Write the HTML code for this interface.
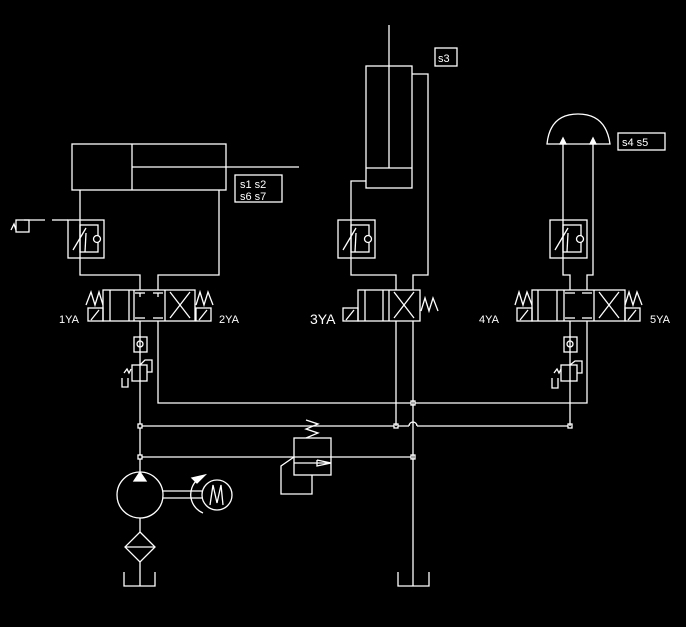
<!DOCTYPE html><html><head><style>body{margin:0;background:#000}svg{display:block}text{font-family:"Liberation Sans",sans-serif;fill:#fff}</style></head><body>
<svg width="686" height="627" viewBox="0 0 686 627" stroke="#fff" stroke-width="1.3" fill="none">
<rect x="72" y="144" width="154" height="46"/><line x1="132" y1="144" x2="132" y2="190"/><line x1="132" y1="167" x2="299" y2="167"/>
<rect x="235" y="175" width="47" height="27"/>
<text x="240" y="188" font-size="11" stroke="none">s1 s2</text><text x="240" y="200" font-size="11" stroke="none">s6 s7</text>
<polyline points="80,190 80,275 140,275 140,290"/><polyline points="219,190 219,275 158,275 158,290"/>
<rect x="68" y="220" width="36" height="38"/><rect x="80" y="225" width="18" height="27"/><circle cx="97" cy="239" r="3.5" fill="#000"/>
<line x1="73" y1="250" x2="86" y2="228"/><line x1="86" y1="233" x2="85" y2="252"/>
<line x1="52" y1="220" x2="68" y2="220"/><line x1="24" y1="220" x2="45" y2="220"/>
<rect x="16" y="220" width="13" height="12"/><polyline points="11,230 14,224 16,230"/>
<rect x="103" y="290" width="92" height="31"/><line x1="134" y1="290" x2="134" y2="321"/><line x1="165" y1="290" x2="165" y2="321"/>
<line x1="110" y1="290" x2="110" y2="321"/><line x1="129" y1="290" x2="129" y2="321"/>
<line x1="140" y1="293" x2="140" y2="297"/><line x1="135" y1="293" x2="145" y2="293"/><line x1="158" y1="293" x2="158" y2="297"/><line x1="153" y1="293" x2="163" y2="293"/>
<line x1="135" y1="318" x2="145" y2="318"/><line x1="153" y1="318" x2="163" y2="318"/>
<line x1="170" y1="292" x2="190" y2="318"/><line x1="190" y1="292" x2="170" y2="318"/>
<polyline points="86,305 91,292 95,305 99,292 103,305"/><rect x="88" y="308" width="15" height="13"/><line x1="91" y1="320" x2="99" y2="310"/>
<polyline points="196,305 200,292 204,305 208,292 213,305"/><rect x="196" y="308" width="15" height="13"/><line x1="199" y1="320" x2="207" y2="310"/>
<text x="59" y="323" font-size="11" stroke="none">1YA</text><text x="219" y="323" font-size="11" stroke="none">2YA</text>
<line x1="140" y1="321" x2="140" y2="472"/><rect x="134" y="337" width="13" height="15"/><circle cx="140" cy="344" r="3"/>
<rect x="132" y="365" width="15" height="16"/><polyline points="140,365 145,360 152,360 152,372 147,372"/>
<polyline points="124,373 127,369 129,373 131,369"/><polyline points="122,378 122,387 128,387 128,378"/>
<polyline points="158,321 158,403 587,403 587,321"/>
<line x1="140" y1="426" x2="409" y2="426"/><path d="M409 426 A4 4 0 0 1 417 426"/><line x1="417" y1="426" x2="570" y2="426"/>
<line x1="140" y1="457" x2="413" y2="457"/>
<g fill="#000"><rect x="138" y="424" width="4" height="4"/><rect x="138" y="455" width="4" height="4"/><rect x="394" y="424" width="4" height="4"/><rect x="568" y="424" width="4" height="4"/><rect x="411" y="401" width="4" height="4"/><rect x="411" y="455" width="4" height="4"/></g>
<rect x="294" y="438" width="37" height="37"/><line x1="294" y1="463" x2="331" y2="463"/><polyline points="317,460 331,463 317,466 317,460"/>
<polyline points="306,420 318,424 306,429 318,433 306,438"/>
<polyline points="294,457 281,466 281,494 312,494 312,475"/>
<circle cx="140" cy="495" r="23"/><polygon points="140,472 134,481 146,481" fill="#fff"/>
<line x1="163" y1="491" x2="203" y2="491"/><line x1="163" y1="498" x2="203" y2="498"/>
<circle cx="217" cy="495" r="15"/><polyline points="210,505 213,485 217,503 221,485 223,505"/>
<path d="M197 480 A20 20 0 0 0 203 513"/><polygon points="192,478 205,475 197,483" fill="#fff"/>
<line x1="140" y1="518" x2="140" y2="532"/><line x1="140" y1="562" x2="140" y2="586"/><polygon points="140,532 155,547 140,562 125,547"/><line x1="125" y1="547" x2="155" y2="547"/>
<polyline points="124,572 124,586 155,586 155,572"/>
<rect x="366" y="66" width="46" height="122"/><line x1="366" y1="168" x2="412" y2="168"/><line x1="389" y1="25" x2="389" y2="168"/>
<polyline points="412,74 428,74 428,275 413,275 413,290"/><polyline points="366,181 351,181 351,275 396,275 396,290"/>
<rect x="435" y="48" width="22" height="18"/><text x="438" y="62" font-size="11" stroke="none">s3</text>
<rect x="338" y="220" width="37" height="38"/><rect x="351" y="225" width="18" height="27"/><circle cx="368" cy="239" r="3.5" fill="#000"/>
<line x1="343" y1="250" x2="356" y2="228"/><line x1="356" y1="233" x2="355" y2="252"/>
<rect x="358" y="290" width="62" height="31"/><line x1="389" y1="290" x2="389" y2="321"/><line x1="365" y1="290" x2="365" y2="321"/><line x1="383" y1="290" x2="383" y2="321"/>
<line x1="394" y1="292" x2="414" y2="318"/><line x1="414" y1="292" x2="394" y2="318"/>
<rect x="343" y="308" width="15" height="13"/><line x1="346" y1="320" x2="354" y2="310"/>
<polyline points="421,311 425,298 429,311 433,298 438,311"/>
<text x="310" y="324" font-size="14" stroke="none">3YA</text>
<line x1="396" y1="321" x2="396" y2="426"/><line x1="413" y1="321" x2="413" y2="586"/>
<polyline points="398,572 398,586 429,586 429,572"/>
<path d="M547 144 Q550 114 578 114 Q606 114 610 144 Z"/>
<polygon points="563,138 560,144 566,144" fill="#fff"/><polygon points="593,138 590,144 596,144" fill="#fff"/>
<rect x="618" y="133" width="47" height="17"/><text x="622" y="146" font-size="11" stroke="none">s4 s5</text>
<polyline points="563,144 563,275 570,275 570,290"/><polyline points="593,144 593,275 587,275 587,290"/>
<rect x="550" y="220" width="37" height="38"/><rect x="563" y="225" width="18" height="27"/><circle cx="580" cy="239" r="3.5" fill="#000"/>
<line x1="555" y1="250" x2="568" y2="228"/><line x1="568" y1="233" x2="567" y2="252"/>
<rect x="532" y="290" width="93" height="31"/><line x1="564" y1="290" x2="564" y2="321"/><line x1="594" y1="290" x2="594" y2="321"/>
<line x1="538" y1="290" x2="538" y2="321"/><line x1="557" y1="290" x2="557" y2="321"/>
<line x1="565" y1="293" x2="575" y2="293"/><line x1="582" y1="293" x2="592" y2="293"/><line x1="565" y1="318" x2="575" y2="318"/><line x1="582" y1="318" x2="592" y2="318"/>
<line x1="599" y1="292" x2="619" y2="318"/><line x1="619" y1="292" x2="599" y2="318"/>
<polyline points="515,305 519,292 523,305 527,292 532,305"/><rect x="517" y="308" width="15" height="13"/><line x1="520" y1="320" x2="528" y2="310"/>
<polyline points="625,305 629,292 633,305 637,292 642,305"/><rect x="625" y="308" width="15" height="13"/><line x1="628" y1="320" x2="636" y2="310"/>
<text x="479" y="323" font-size="11" stroke="none">4YA</text><text x="650" y="323" font-size="11" stroke="none">5YA</text>
<line x1="570" y1="321" x2="570" y2="426"/><rect x="564" y="337" width="13" height="15"/><circle cx="570" cy="344" r="3"/>
<rect x="561" y="365" width="16" height="16"/><polyline points="570,365 575,361 582,361 582,373 577,373"/>
<polyline points="554,373 557,369 559,373 561,369"/><polyline points="552,378 552,388 558,388 558,378"/>
</svg></body></html>
